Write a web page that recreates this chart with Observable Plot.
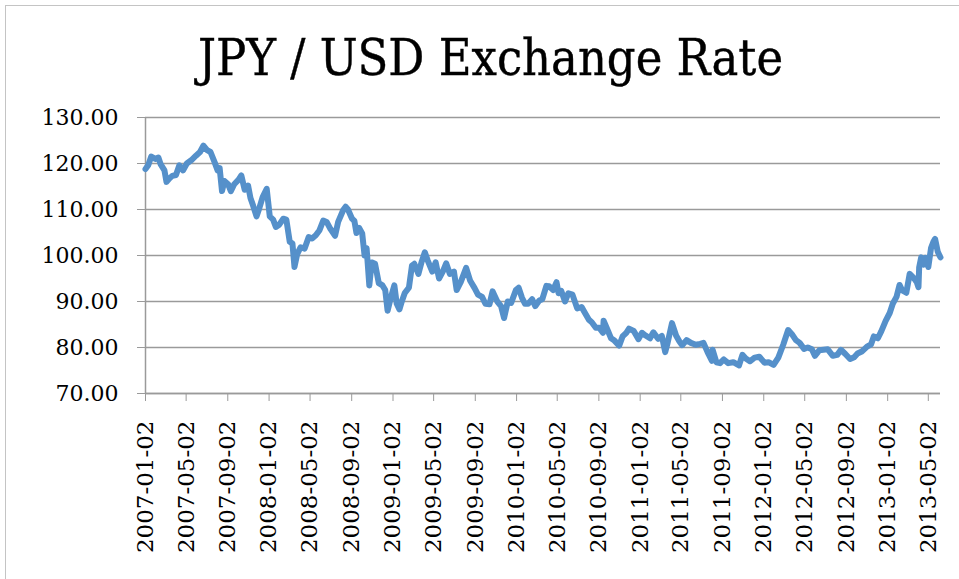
<!DOCTYPE html>
<html>
<head>
<meta charset="utf-8">
<script src="https://cdn.jsdelivr.net/npm/d3@7"></script>
<script src="https://cdn.jsdelivr.net/npm/@observablehq/plot@0.6"></script>
<style>
  html, body { margin: 0; padding: 0; background: #fff; }
  #frame { position: absolute; left: 5px; top: 5px; width: 970px; height: 590px; border: 1.5px solid #c4c4c4; box-sizing: border-box; }
  #wrap { position: relative; width: 959px; height: 579px; overflow: hidden; }
  #title { height: 100px; width: 959px; box-sizing: border-box; padding-top: 28px; text-align: center; padding-left: 22px;
           font-family: "DejaVu Serif"; font-stretch: condensed; font-size: 50px; color: #000; line-height: 60px; -webkit-text-stroke: 0.4px #000; }
  #chart { display: block; }
</style>
</head>
<body>
<div id="wrap">
  <div id="frame"></div>
  <div id="title">JPY / USD Exchange Rate</div>
  <div id="chart"></div>
</div>
<script>
const dates = [
"2007-01-02","2007-01-10","2007-01-19","2007-01-31","2007-02-09","2007-02-16","2007-02-27","2007-03-05","2007-03-14","2007-03-22",
"2007-04-02","2007-04-12","2007-04-23","2007-05-04","2007-05-17","2007-05-31","2007-06-12","2007-06-22","2007-07-03","2007-07-13",
"2007-07-25","2007-08-03","2007-08-09","2007-08-16","2007-08-23","2007-09-03","2007-09-11","2007-09-21","2007-10-04","2007-10-12",
"2007-10-22","2007-11-01","2007-11-08","2007-11-16","2007-11-26","2007-12-05","2007-12-14","2007-12-26","2008-01-04","2008-01-14",
"2008-01-22","2008-02-01","2008-02-13","2008-02-22","2008-03-03","2008-03-11","2008-03-17","2008-03-25","2008-04-04","2008-04-16",
"2008-04-28","2008-05-08","2008-05-19","2008-05-30","2008-06-10","2008-06-20","2008-07-01","2008-07-15","2008-07-24","2008-08-08",
"2008-08-15","2008-08-22","2008-09-03","2008-09-10","2008-09-16","2008-09-24","2008-10-03","2008-10-10","2008-10-16","2008-10-24",
"2008-10-31","2008-11-10","2008-11-21","2008-12-02","2008-12-10","2008-12-17","2008-12-26","2009-01-06","2009-01-13","2009-01-21",
"2009-01-28","2009-02-06","2009-02-18","2009-02-27","2009-03-06","2009-03-18","2009-03-27","2009-04-06","2009-04-14","2009-04-28",
"2009-05-08","2009-05-18","2009-05-29","2009-06-08","2009-06-19","2009-07-01","2009-07-09","2009-07-21","2009-08-06","2009-08-18",
"2009-08-31","2009-09-10","2009-09-22","2009-10-02","2009-10-14","2009-10-23","2009-11-06","2009-11-17","2009-11-26","2009-12-07",
"2009-12-17","2009-12-31","2010-01-08","2010-01-18","2010-01-27","2010-02-05","2010-02-17","2010-02-26","2010-03-10","2010-03-19",
"2010-03-31","2010-04-08","2010-04-20","2010-04-30","2010-05-06","2010-05-14","2010-05-25","2010-06-04","2010-06-16","2010-06-30",
"2010-07-13","2010-07-23","2010-08-04","2010-08-12","2010-08-24","2010-09-03","2010-09-14","2010-09-16","2010-09-29","2010-10-08",
"2010-10-18","2010-11-01","2010-11-11","2010-11-22","2010-11-30","2010-12-14","2010-12-28","2011-01-07","2011-01-18","2011-01-31",
"2011-02-10","2011-02-24","2011-03-07","2011-03-17","2011-03-24","2011-04-06","2011-04-18","2011-04-28","2011-05-06","2011-05-19",
"2011-06-01","2011-06-15","2011-06-28","2011-07-08","2011-07-20","2011-08-02","2011-08-04","2011-08-15","2011-08-26","2011-09-06",
"2011-09-19","2011-10-04","2011-10-21","2011-10-31","2011-11-10","2011-11-22","2011-12-06","2011-12-20","2012-01-04","2012-01-16",
"2012-01-31","2012-02-14","2012-02-29","2012-03-14","2012-03-27","2012-04-06","2012-04-17","2012-04-30","2012-05-11","2012-05-23",
"2012-06-01","2012-06-14","2012-06-26","2012-07-09","2012-07-24","2012-08-06","2012-08-17","2012-08-30","2012-09-13","2012-09-25",
"2012-10-05","2012-10-19","2012-11-02","2012-11-14","2012-11-22","2012-12-04","2012-12-14","2012-12-27","2013-01-08","2013-01-17",
"2013-01-28","2013-02-06","2013-02-14","2013-02-26","2013-03-08","2013-03-19","2013-03-29","2013-04-03","2013-04-05","2013-04-11",
"2013-04-18","2013-04-24","2013-05-02","2013-05-10","2013-05-17","2013-05-22","2013-05-30","2013-06-04","2013-06-07"
];
const rates = [
118.8,119.6,121.5,121.0,121.3,119.8,118.5,116.0,116.8,117.3,
117.5,119.6,118.5,120.0,120.7,121.7,122.5,123.9,122.9,122.5,
120.3,118.5,119.0,114.0,116.2,115.5,114.0,115.5,116.5,117.4,
114.3,115.2,112.5,110.8,108.5,110.5,112.7,114.5,108.5,107.8,
106.2,106.7,108.0,107.8,103.0,102.6,97.5,100.3,101.8,101.5,
104.0,103.7,104.4,105.5,107.6,107.3,105.8,104.3,107.3,109.9,
110.6,110.0,108.0,107.5,104.9,106.0,104.8,100.0,101.6,93.5,
98.5,98.2,94.0,93.5,92.5,88.0,90.7,93.5,89.5,88.3,
90.0,91.9,93.0,97.8,98.2,96.0,98.5,100.7,99.0,96.5,
98.5,95.0,96.5,98.3,96.0,96.5,92.5,94.2,97.3,94.5,
92.9,91.5,91.0,89.5,89.4,92.2,90.0,89.0,86.4,90.0,
89.7,92.5,93.0,90.8,89.5,89.5,90.5,89.0,90.2,90.5,
93.4,93.3,92.5,94.2,91.8,92.3,90.0,91.8,91.5,88.5,
88.8,87.5,86.0,85.5,84.3,84.3,83.2,85.8,83.6,82.0,
81.5,80.4,82.4,83.2,84.1,83.6,81.8,83.2,82.6,82.0,
83.3,81.9,82.5,79.0,81.0,85.3,82.6,81.3,80.5,81.6,
81.0,80.6,80.8,81.0,79.0,77.1,79.5,76.8,76.6,77.4,
76.6,76.8,76.1,78.4,77.6,77.0,77.8,78.0,76.7,76.8,
76.2,77.8,80.7,83.8,82.7,81.6,81.0,79.7,80.0,79.6,
78.2,79.4,79.5,79.6,78.2,78.4,79.5,78.6,77.5,77.9,
78.7,79.2,80.2,80.7,82.4,82.0,83.5,85.8,87.5,89.5,
91.0,93.6,92.4,91.9,96.0,95.2,94.2,93.1,97.4,99.6,
98.0,99.5,97.5,101.6,103.0,103.6,100.8,100.0,99.6
];
const yTicks = [70, 80, 90, 100, 110, 120, 130];
const xTickLabels = ["2007-01-02","2007-05-02","2007-09-02","2008-01-02","2008-05-02","2008-09-02","2009-01-02","2009-05-02","2009-09-02",
"2010-01-02","2010-05-02","2010-09-02","2011-01-02","2011-05-02","2011-09-02","2012-01-02","2012-05-02","2012-09-02","2013-01-02","2013-05-02"];

const parse = d3.utcParse("%Y-%m-%d");
const data = dates.map((d, i) => ({date: parse(d), rate: rates[i]}));
const xTicks = xTickLabels.map(parse);
const xDomain = [data[0].date, data[data.length - 1].date];
const fmt = d3.utcFormat("%Y-%m-%d");

const chart = Plot.plot({
  width: 959,
  height: 479,
  marginTop: 17,
  marginBottom: 186,
  marginLeft: 145,
  marginRight: 19,
  style: {fontFamily: "DejaVu Serif", fontSize: "22px", color: "#000", background: "#fff"},
  x: {type: "utc", domain: xDomain},
  y: {domain: [70, 130]},
  marks: [
    Plot.gridY(yTicks, {stroke: "#9a9a9a", strokeOpacity: 1, strokeWidth: 1.5}),
    Plot.ruleX([xDomain[0]], {stroke: "#9a9a9a", strokeWidth: 1.5}),
    Plot.ruleY([70], {stroke: "#9a9a9a", strokeWidth: 1.5}),
    Plot.axisY(yTicks, {tickFormat: d => d.toFixed(2), tickSize: 8, tickPadding: 19, stroke: "#9a9a9a", fill: "#000", fontSize: 22, label: null}),
    Plot.axisX(xTicks, {tickFormat: fmt, tickSize: 8, tickPadding: 19, tickRotate: -90, stroke: "#9a9a9a", fill: "#000", fontSize: 23, label: null}),
    Plot.line(data, {x: "date", y: "rate", stroke: "#5590ca", strokeWidth: 6, strokeLinejoin: "round", strokeLinecap: "round"})
  ]
});
document.getElementById("chart").appendChild(chart);
</script>
</body>
</html>
